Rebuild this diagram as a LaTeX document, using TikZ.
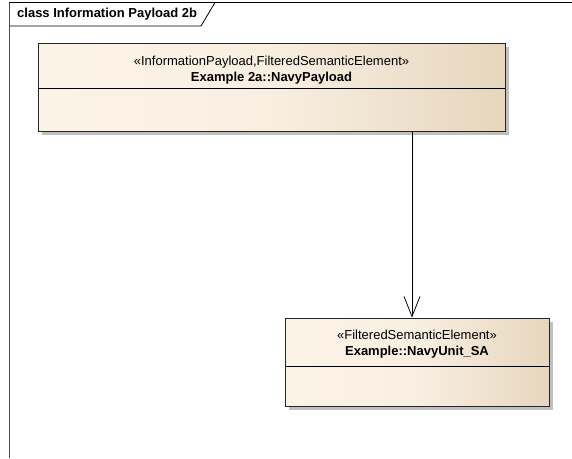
\documentclass[tikz,border=0pt]{standalone}
\usepackage{fontspec}
\setmainfont{Liberation Sans}
\usetikzlibrary{arrows.meta,calc,positioning}

\definecolor{boxleft}{RGB}{252,243,231}
\definecolor{boxright}{RGB}{230,214,190}
\definecolor{boxshadow}{RGB}{192,192,192}

\begin{document}
\begin{tikzpicture}[
  x=1pt, y=-1pt,
  font=\fontsize{13}{16}\selectfont,
  classbox/.style={draw=black!85, line width=0.9pt, left color=boxleft, right color=boxright, middle color=boxleft!85!boxright, minimum width=#1, minimum height=88pt, inner sep=0pt},
  shadowbox/.style={fill=boxshadow, minimum width=#1, minimum height=88pt, inner sep=0pt},
  classname/.style={align=center, inner sep=0pt},
  assoc/.style={-{Straight Barb[length=20pt, width=16pt, line width=0.8pt]}, line width=0.8pt}
]
\useasboundingbox (0,0) rectangle (572,458);

% diagram frame
\node[font=\fontsize{13}{16}\selectfont\bfseries, anchor=west, inner sep=0pt] (frametitle) at (17,14.5) {class Information Payload 2b};
\draw[line width=0.8pt] (9,2.5) -- (572,2.5);
\draw[line width=0.8pt] (9,26) -- (201,26) -- (215,2.5);
\draw[line width=0.9pt, black!70] (9,2.5) -- (9,458);

% classes
\node[shadowbox=467pt] (payloadshadow) at (275,90.5) {};
\node[classbox=467pt] (payload) at (271.5,87) {};
\node[classname, below=13.5pt of payload.north] (payloadname) {«InformationPayload,FilteredSemanticElement»\\\textbf{Example 2a::NavyPayload}};
\draw[line width=0.8pt] ([yshift=-46pt]payload.north west) -- ([yshift=-46pt]payload.north east);

\node[shadowbox=264pt] (unitshadow) at (420.5,365.5) {};
\node[classbox=264pt] (unit) at (417,362) {};
\node[classname, below=12.5pt of unit.north] (unitname) {«FilteredSemanticElement»\\\textbf{Example::NavyUnit\_SA}};
\draw[line width=0.8pt] ([yshift=-49pt]unit.north west) -- ([yshift=-49pt]unit.north east);

\draw[assoc] ([xshift=-5pt]unit.north |- payload.south) -- ([xshift=-5pt]unit.north);
\end{tikzpicture}
\end{document}
